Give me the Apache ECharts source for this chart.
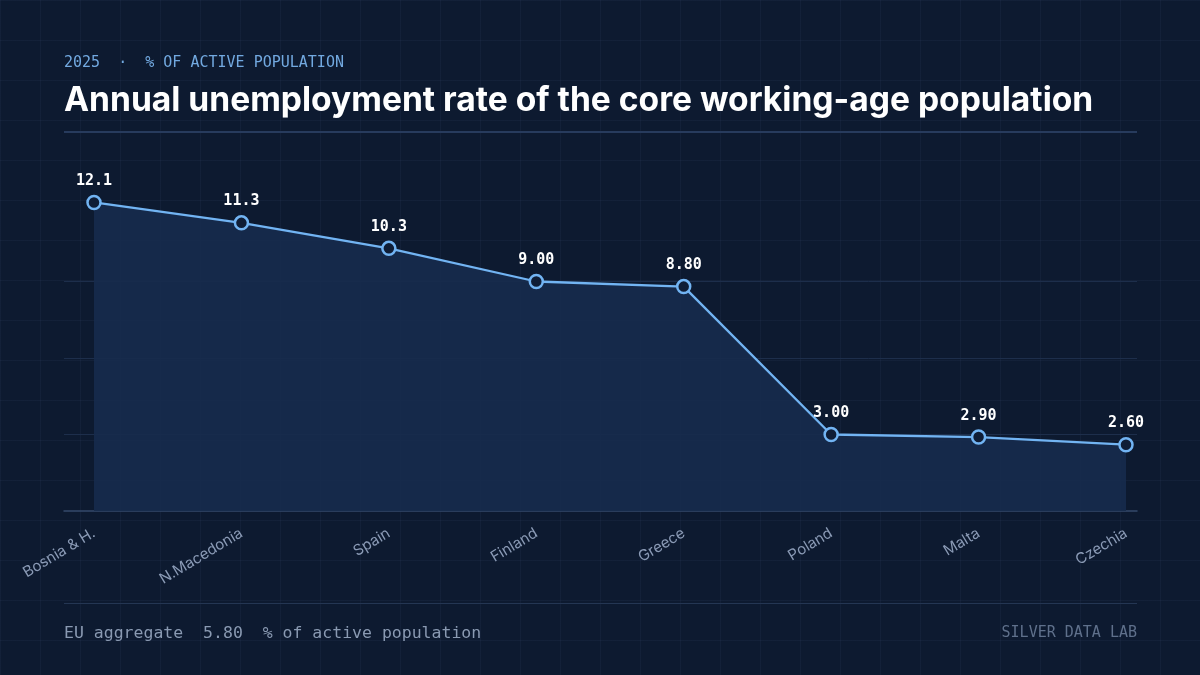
<!DOCTYPE html>
<html>
<head>
<meta charset="utf-8">
<script src="https://cdn.jsdelivr.net/npm/echarts@6/dist/echarts.min.js"></script>
<style>
  html, body { margin: 0; padding: 0; }
  body {
    width: 1200px; height: 675px; overflow: hidden;
    background-color: #0d1a30;
    background-image:
      linear-gradient(to right, rgba(120,150,200,0.06) 1px, transparent 1px),
      linear-gradient(to bottom, rgba(120,150,200,0.06) 1px, transparent 1px);
    background-size: 40px 40px;
  }
  #chart { width: 1200px; height: 675px; }
</style>
</head>
<body>
<div id="chart"></div>
<script>
// ---- data ----
const categories = ['Bosnia & H.', 'N.Macedonia', 'Spain', 'Finland', 'Greece', 'Poland', 'Malta', 'Czechia'];
const rates = [12.1, 11.3, 10.3, 9.00, 8.80, 3.00, 2.90, 2.60];
const yTicks = [0, 3, 6, 9, 12];
const euAggregate = 5.80;
const periodLabel = '2025';
const unitLabel = '% of active population';
const titleText = 'Annual unemployment rate of the core working-age population';
const sourceText = 'SILVER DATA LAB';

const fmt = v => v >= 10 ? v.toFixed(1) : v.toFixed(2);

const chart = echarts.init(document.getElementById('chart'), null, { renderer: 'canvas' });

const yMin = yTicks[0], yMax = yTicks[yTicks.length - 1];
const yInterval = yTicks[1] - yTicks[0];
const GRID_TOP = 205, GRID_BOTTOM = 164;

const option = {
  backgroundColor: 'transparent',
  animation: false,
  grid: [
    { left: 64, right: 63, top: GRID_TOP, bottom: GRID_BOTTOM },
    { left: 94, right: 74, top: GRID_TOP, bottom: GRID_BOTTOM }
  ],
  xAxis: [
    {
      gridIndex: 0, type: 'category', data: categories, boundaryGap: false,
      axisLine: { show: true, lineStyle: { color: '#34496b', width: 1.5 } },
      axisTick: { show: false }, axisLabel: { show: false }, splitLine: { show: false }
    },
    {
      gridIndex: 1, type: 'category', data: categories, boundaryGap: false,
      axisLine: { show: false }, axisTick: { show: false }, splitLine: { show: false },
      axisLabel: {
        show: true, rotate: 31, margin: 21, interval: 0,
        color: '#8a9ab5', fontFamily: 'Inter, "Noto Sans", sans-serif', fontSize: 15
      }
    }
  ],
  yAxis: [
    {
      gridIndex: 0, type: 'value', min: yMin, max: yMax, interval: yInterval,
      axisLine: { show: false }, axisTick: { show: false }, axisLabel: { show: false },
      splitLine: { show: true, showMinLine: false, showMaxLine: false, lineStyle: { color: '#1d2e4b', width: 1 } }
    },
    {
      gridIndex: 1, type: 'value', min: yMin, max: yMax, interval: yInterval,
      axisLine: { show: false }, axisTick: { show: false }, axisLabel: { show: false },
      splitLine: { show: false }
    }
  ],
  series: [
    {
      type: 'line', xAxisIndex: 1, yAxisIndex: 1, data: rates, clip: false,
      symbol: 'circle', symbolSize: 13,
      lineStyle: { color: '#72b4f3', width: 2.3 },
      itemStyle: { color: '#0f1d36', borderColor: '#72b4f3', borderWidth: 2.5 },
      areaStyle: { color: '#172b4c', opacity: 0.93 },
      label: {
        show: true, position: 'top', distance: 6,
        formatter: p => fmt(p.value),
        color: '#ffffff', fontFamily: '"DejaVu Sans Mono", monospace', fontWeight: 'bold', fontSize: 15
      },
      emphasis: { disabled: true }
    }
  ],
  graphic: [
    {
      type: 'text', left: 64, top: 56,
      style: {
        text: periodLabel + '  \u00b7  ' + unitLabel.toUpperCase(),
        fill: '#72a9e0', font: '15px "DejaVu Sans Mono", monospace'
      }
    },
    {
      type: 'text', left: 64, top: 84,
      style: {
        text: titleText,
        fill: '#ffffff', font: 'bold 33.6px Inter, "Noto Sans", sans-serif'
      }
    },
    {
      type: 'rect', left: 64, top: 131,
      shape: { width: 1073, height: 2 },
      style: { fill: '#273b5d' }
    },
    {
      type: 'rect', left: 64, top: 603,
      shape: { width: 1073, height: 1 },
      style: { fill: '#243653' }
    },
    {
      type: 'text', left: 64, top: 625,
      style: {
        text: 'EU aggregate  ' + euAggregate.toFixed(2) + '  ' + unitLabel,
        fill: '#8a9ab2', font: '16.5px "DejaVu Sans Mono", monospace'
      }
    },
    {
      type: 'text', right: 63, top: 626,
      style: {
        text: sourceText,
        fill: '#5f708b', font: '15px "DejaVu Sans Mono", monospace'
      }
    }
  ]
};

chart.setOption(option);
</script>
</body>
</html>
